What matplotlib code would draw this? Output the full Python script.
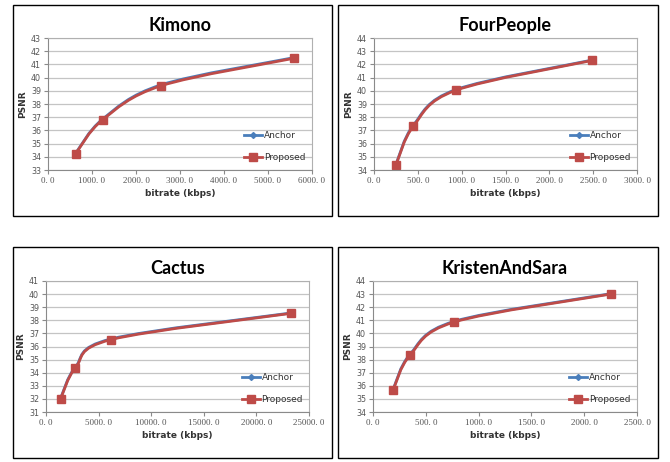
import numpy as np
import matplotlib.pyplot as plt
from matplotlib.path import Path
from matplotlib.patches import PathPatch, Rectangle
from matplotlib.lines import Line2D
from matplotlib.ticker import FuncFormatter

# data
titles = ['Kimono', 'FourPeople', 'Cactus', 'KristenAndSara']
kimono_rate = [630, 1240, 2570, 5600]
kimono_anchor = [34.28, 36.85, 39.45, 41.52]
kimono_prop = [34.25, 36.8, 39.38, 41.47]
four_rate = [250, 450, 930, 2490]
four_anchor = [34.42, 37.4, 40.08, 42.33]
four_prop = [34.38, 37.33, 40.03, 42.3]
cactus_rate = [1400, 2800, 6200, 23300]
cactus_anchor = [32.08, 34.43, 36.58, 38.56]
cactus_prop = [32.03, 34.37, 36.53, 38.53]
ks_rate = [190, 350, 770, 2250]
ks_anchor = [35.72, 38.4, 40.92, 43.03]
ks_prop = [35.67, 38.33, 40.87, 43.0]

xmax = [6000, 3000, 25000, 2500]
xstep = [1000, 500, 5000, 500]
ylim = [(33, 43), (34, 44), (31, 41), (34, 44)]

rates = [kimono_rate, four_rate, cactus_rate, ks_rate]
anchors = [kimono_anchor, four_anchor, cactus_anchor, ks_anchor]
props = [kimono_prop, four_prop, cactus_prop, ks_prop]

blue = '#4a7ebb'
red = '#be4b48'
W, H = 670, 462

fig = plt.figure(figsize=(W / 100, H / 100), dpi=100)

# outer boxes (pixels): x0, y0, x1, y1
boxes = [(13, 5, 332, 216), (338, 5, 658, 216), (13, 247, 332, 458), (338, 247, 658, 458)]
plots = [(48, 38, 312, 170), (374, 38, 637, 170), (46, 281, 309, 412), (373, 281, 637, 412)]


def smooth_path(x, y):
    # excel style smoothed line as bezier segments
    pts = np.column_stack([x, y]).astype(float)
    n = len(pts)
    verts = [pts[0]]
    codes = [Path.MOVETO]
    for i in range(n - 1):
        p0 = pts[i - 1] if i > 0 else pts[i]
        p1 = pts[i]
        p2 = pts[i + 1]
        p3 = pts[i + 2] if i + 2 < n else pts[i + 1]
        c1 = p1 + (p2 - p0) / 6.0
        c2 = p2 - (p3 - p1) / 6.0
        verts += [c1, c2, p2]
        codes += [Path.CURVE4] * 3
    return Path(verts, codes)


def fmt(v, pos):
    return '%d. %d' % (int(v), 0)


for k in range(4):
    bx0, by0, bx1, by1 = boxes[k]
    fig.patches.append(Rectangle((bx0 / W, 1 - by1 / H), (bx1 - bx0) / W, (by1 - by0) / H,
                                 transform=fig.transFigure, fill=False, ec='black', lw=1.0))
    x0, y0, x1, y1 = plots[k]
    ax = fig.add_axes([x0 / W, 1 - y1 / H, (x1 - x0) / W, (y1 - y0) / H])
    ax.set_xlim(0, xmax[k])
    ax.set_ylim(*ylim[k])
    ax.set_xticks(np.arange(0, xmax[k] + 1, xstep[k]))
    ax.set_yticks(np.arange(ylim[k][0], ylim[k][1] + 1, 1))
    ax.xaxis.set_major_formatter(FuncFormatter(fmt))
    ax.grid(axis='y', color='#c4c4c4', lw=0.9)
    ax.set_axisbelow(True)
    for s in ax.spines.values():
        s.set_color('#b0b0b0')
        s.set_linewidth(0.8)
    ax.spines['left'].set_color('#8a8a8a')
    ax.spines['bottom'].set_color('#8a8a8a')
    ax.tick_params(length=3, width=0.8, color='#8a8a8a', pad=2)
    for lab in ax.get_xticklabels():
        lab.set_fontfamily('Liberation Serif')
        lab.set_fontsize(6.5)
        lab.set_color('#555555')
    for lab in ax.get_yticklabels():
        lab.set_fontfamily('DejaVu Sans')
        lab.set_fontsize(5.8)
        lab.set_color('#555555')

    ax.add_patch(PathPatch(smooth_path(rates[k], anchors[k]), fc='none', ec=blue, lw=2))
    ax.plot(rates[k], anchors[k], 'D', color=blue, ms=3, ls='none')
    ax.add_patch(PathPatch(smooth_path(rates[k], props[k]), fc='none', ec=red, lw=2))
    ax.plot(rates[k], props[k], 's', color=red, ms=6, ls='none')

    ax.set_title(titles[k], fontfamily='Lato', fontweight='bold', fontsize=13, pad=5)
    ax.set_xlabel('bitrate (kbps)', fontsize=6.5, fontweight='bold', color='#333333', labelpad=3)
    ax.set_ylabel('PSNR', fontsize=6.5, fontweight='bold', color='#333333', labelpad=3)

    handles = [Line2D([], [], color=blue, lw=2, marker='D', ms=3),
               Line2D([], [], color=red, lw=2, marker='s', ms=6)]
    ax.legend(handles, ['Anchor', 'Proposed'], loc='lower left', bbox_to_anchor=(0.713, 0.0),
              frameon=False, fontsize=6.5, handlelength=2.0, handletextpad=0.2,
              labelspacing=1.4, labelcolor='#333333')

fig.savefig('out.png', dpi=100)
